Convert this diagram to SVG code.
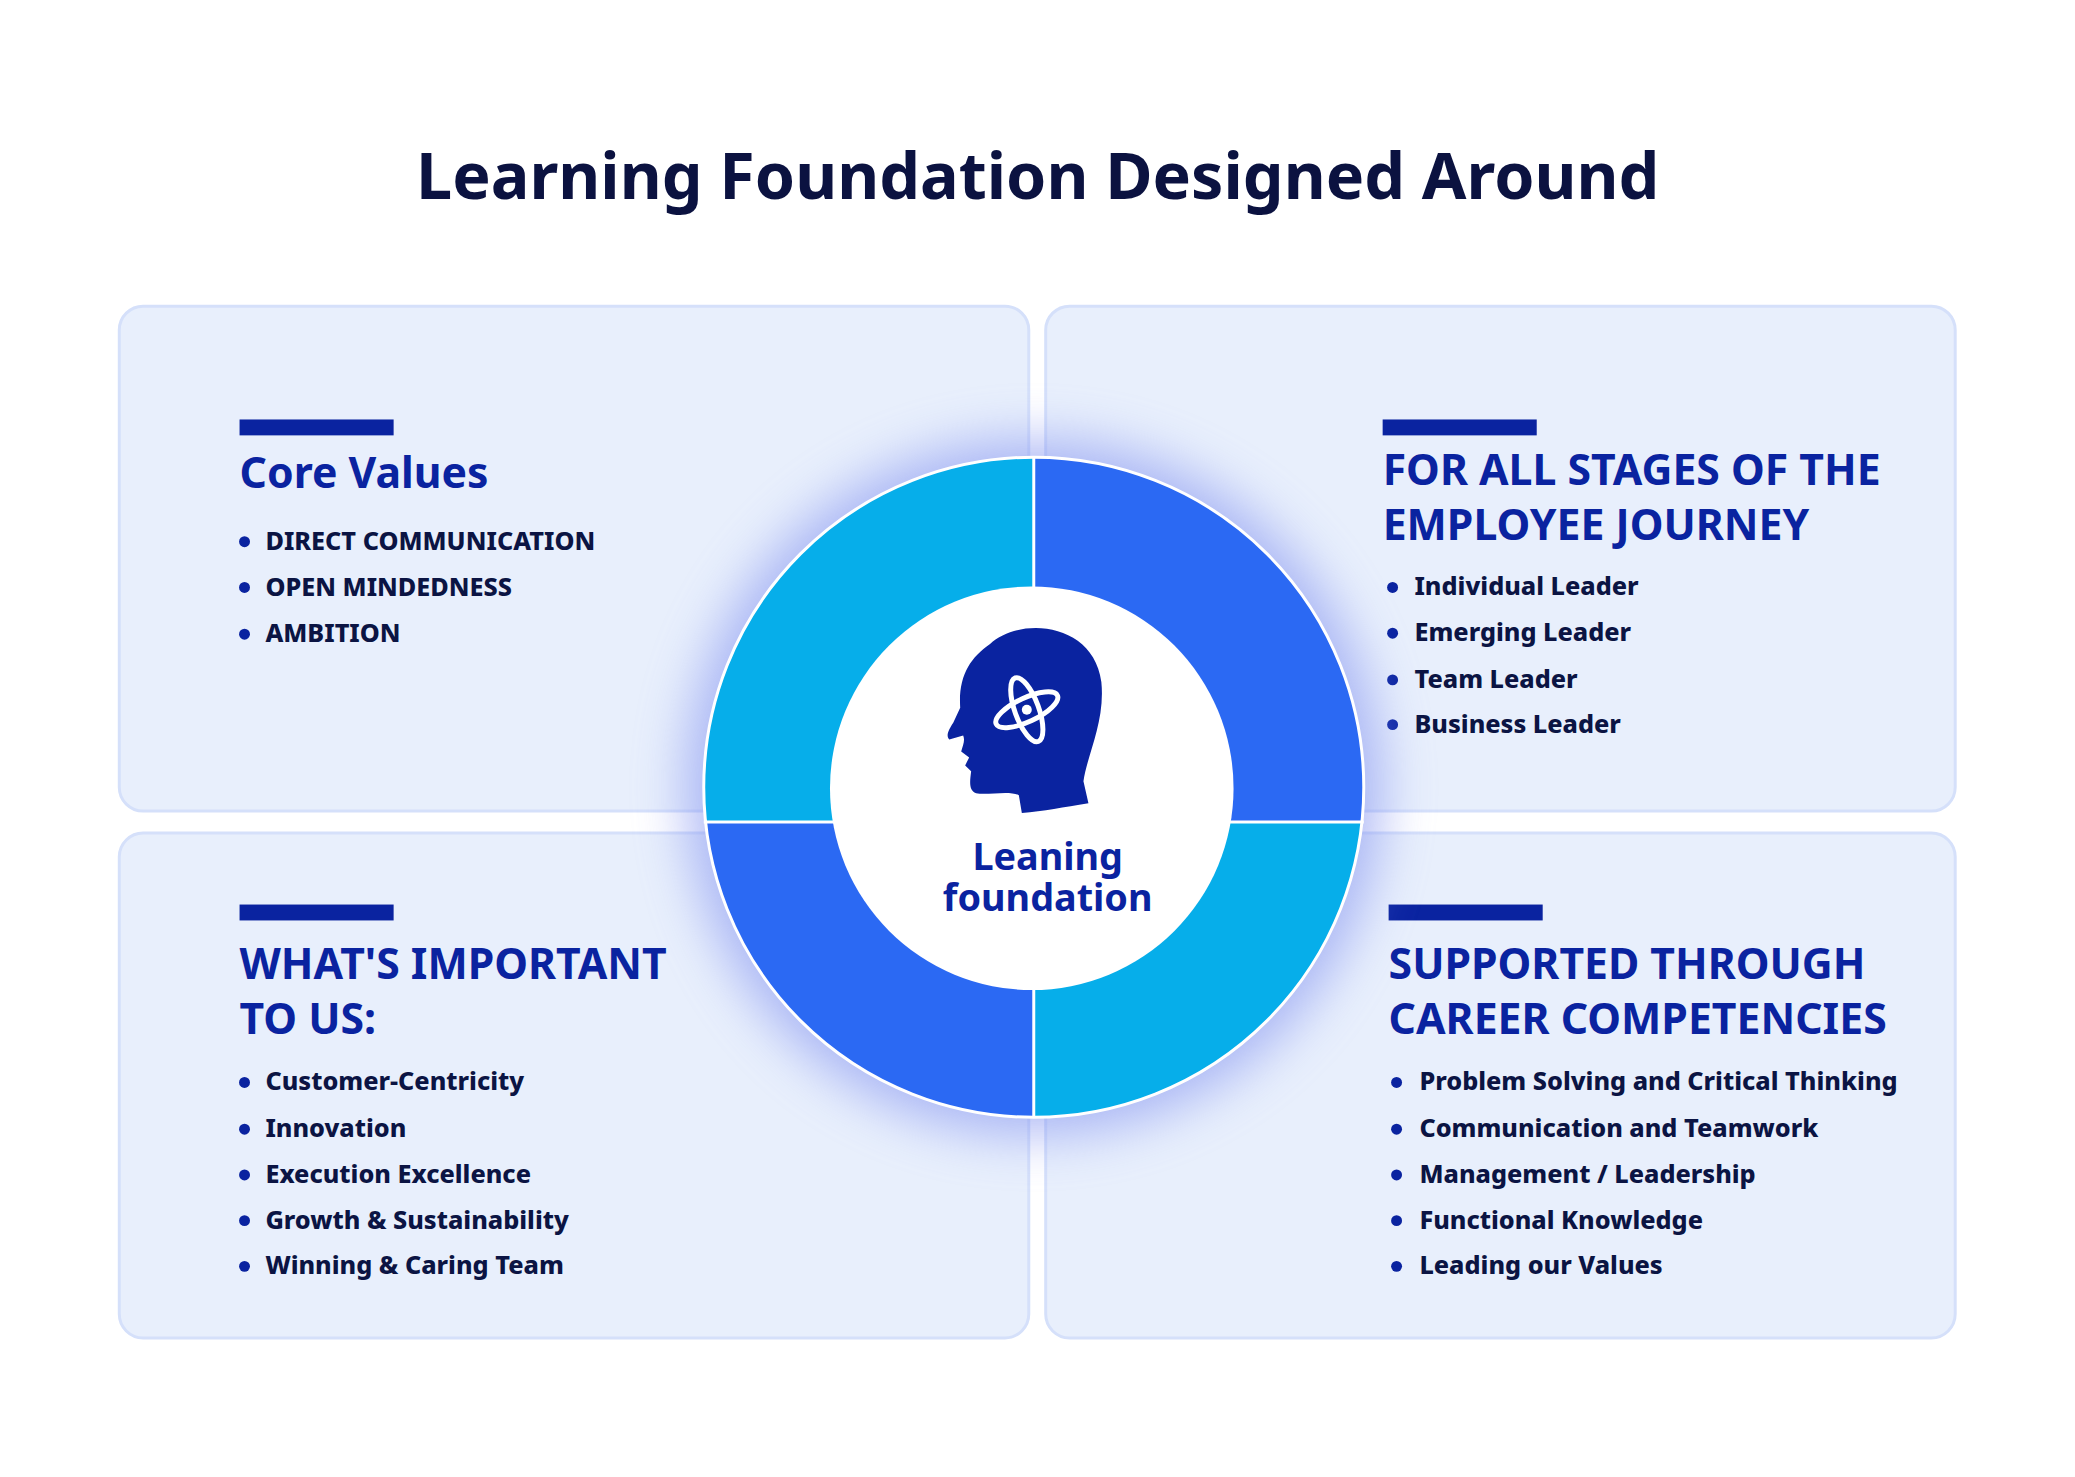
<svg xmlns="http://www.w3.org/2000/svg" width="2075" height="1477" viewBox="0 0 2075 1477">
<style>
.panel{fill:#E8EFFC;stroke:#D5E0FA;stroke-width:3}
.bar{fill:#0A23A0}
.h{font-family:"Noto Sans","Open Sans",sans-serif;font-weight:700;fill:#0A23A0;font-size:43px}
.li{font-family:"Noto Sans","Open Sans",sans-serif;font-weight:800;fill:#0B1443;font-size:25.4px}
.dot{fill:#0A23A0}
</style>
<defs>
<filter id="glow" x="-40%" y="-40%" width="180%" height="180%"><feGaussianBlur stdDeviation="26"/></filter>
<clipPath id="q1"><rect x="1040" y="400" width="400" height="427"/></clipPath>
<clipPath id="q3"><rect x="640" y="827" width="400" height="400"/></clipPath>
</defs>
<rect width="2075" height="1477" fill="#FFFFFF"/>
<g transform="scale(0.994)">
<text x="1044" y="200" text-anchor="middle" font-family="Noto Sans, Open Sans, sans-serif" font-weight="700" font-size="65" fill="#0B1240">Learning Foundation Designed Around</text>
<g id="panel-tl"><rect class="panel" x="120" y="308" width="915" height="508" rx="24"/>
<rect class="bar" x="241" y="422" width="155" height="16"/>
<text class="h" x="241" y="491">Core Values</text>
<circle class="dot" cx="246" cy="545" r="5.5"/><text class="li" x="267" y="553">DIRECT COMMUNICATION</text>
<circle class="dot" cx="246" cy="591" r="5.5"/><text class="li" x="267" y="600">OPEN MINDEDNESS</text>
<circle class="dot" cx="246" cy="638" r="5.5"/><text class="li" x="267" y="646">AMBITION</text>
</g>
<g id="panel-tr"><rect class="panel" x="1052" y="308" width="915" height="508" rx="24"/>
<rect class="bar" x="1391" y="422" width="155" height="16"/>
<text class="h" x="1391" y="488">FOR ALL STAGES OF THE</text>
<text class="h" x="1391" y="543">EMPLOYEE JOURNEY</text>
<circle class="dot" cx="1401" cy="591" r="5.5"/><text class="li" x="1423" y="599">Individual Leader</text>
<circle class="dot" cx="1401" cy="637" r="5.5"/><text class="li" x="1423" y="645">Emerging Leader</text>
<circle class="dot" cx="1401" cy="684" r="5.5"/><text class="li" x="1423" y="692">Team Leader</text>
<circle class="dot" cx="1401" cy="729" r="5.5"/><text class="li" x="1423" y="737">Business Leader</text>
</g>
<g id="panel-bl"><rect class="panel" x="120" y="838" width="915" height="508" rx="24"/>
<rect class="bar" x="241" y="910" width="155" height="16"/>
<text class="h" x="241" y="985">WHAT'S IMPORTANT</text>
<text class="h" x="241" y="1040">TO US:</text>
<circle class="dot" cx="246" cy="1089" r="5.5"/><text class="li" x="267" y="1097">Customer-Centricity</text>
<circle class="dot" cx="246" cy="1136" r="5.5"/><text class="li" x="267" y="1144">Innovation</text>
<circle class="dot" cx="246" cy="1182" r="5.5"/><text class="li" x="267" y="1190">Execution Excellence</text>
<circle class="dot" cx="246" cy="1228" r="5.5"/><text class="li" x="267" y="1236">Growth &amp; Sustainability</text>
<circle class="dot" cx="246" cy="1274" r="5.5"/><text class="li" x="267" y="1282">Winning &amp; Caring Team</text>
</g>
<g id="panel-br"><rect class="panel" x="1052" y="838" width="915" height="508" rx="24"/>
<rect class="bar" x="1397" y="910" width="155" height="16"/>
<text class="h" x="1397" y="985">SUPPORTED THROUGH</text>
<text class="h" x="1397" y="1040">CAREER COMPETENCIES</text>
<circle class="dot" cx="1405" cy="1089" r="5.5"/><text class="li" x="1428" y="1097">Problem Solving and Critical Thinking</text>
<circle class="dot" cx="1405" cy="1136" r="5.5"/><text class="li" x="1428" y="1144">Communication and Teamwork</text>
<circle class="dot" cx="1405" cy="1182" r="5.5"/><text class="li" x="1428" y="1190">Management / Leadership</text>
<circle class="dot" cx="1405" cy="1228" r="5.5"/><text class="li" x="1428" y="1236">Functional Knowledge</text>
<circle class="dot" cx="1405" cy="1274" r="5.5"/><text class="li" x="1428" y="1282">Leading our Values</text>
</g>
<g id="ring">
<circle cx="1040" cy="792" r="350" fill="#7F8FF0" opacity="0.6" filter="url(#glow)"/>
<circle cx="1040" cy="792" r="332" fill="#06AEEA"/>
<circle cx="1040" cy="792" r="332" fill="#2B69F3" clip-path="url(#q1)"/>
<circle cx="1040" cy="792" r="332" fill="#2B69F3" clip-path="url(#q3)"/>
<line x1="1040" y1="460" x2="1040" y2="1124" stroke="#FFFFFF" stroke-width="3"/>
<line x1="708" y1="827" x2="1372" y2="827" stroke="#FFFFFF" stroke-width="3"/>
<circle cx="1040" cy="792" r="332" fill="none" stroke="#FFFFFF" stroke-width="3"/>
<circle cx="1038" cy="793" r="203" fill="#FFFFFF"/>
</g>
<g id="center">
<path fill="#0A23A0" d="M996,648 C1026,620 1100,626 1108,686 C1112,726 1094,758 1090,786 L1095,808 C1070,812 1050,816 1028,818 L1025,800 C1016,795 994,800 982,798 C974,795 976,785 977,776 L971,770 L975,762 L967,756 C969,749 971,745 969,740 L955,744 C951,740 955,733 959,727 L966,712 C964,680 976,662 996,648 Z"/>
<g fill="none" stroke="#FFFFFF" stroke-width="5">
<ellipse cx="1033" cy="714" rx="34" ry="12" transform="rotate(-25 1033 714)"/>
<ellipse cx="1033" cy="714" rx="34" ry="12" transform="rotate(70 1033 714)"/>
</g>
<circle cx="1033" cy="714" r="5" fill="#FFFFFF"/>
<text x="1054" y="875" text-anchor="middle" font-family="Noto Sans, Open Sans, sans-serif" font-weight="700" font-size="38" fill="#0A23A0">Leaning</text>
<text x="1054" y="917" text-anchor="middle" font-family="Noto Sans, Open Sans, sans-serif" font-weight="700" font-size="38" fill="#0A23A0">foundation</text>
</g>
</g>
</svg>
